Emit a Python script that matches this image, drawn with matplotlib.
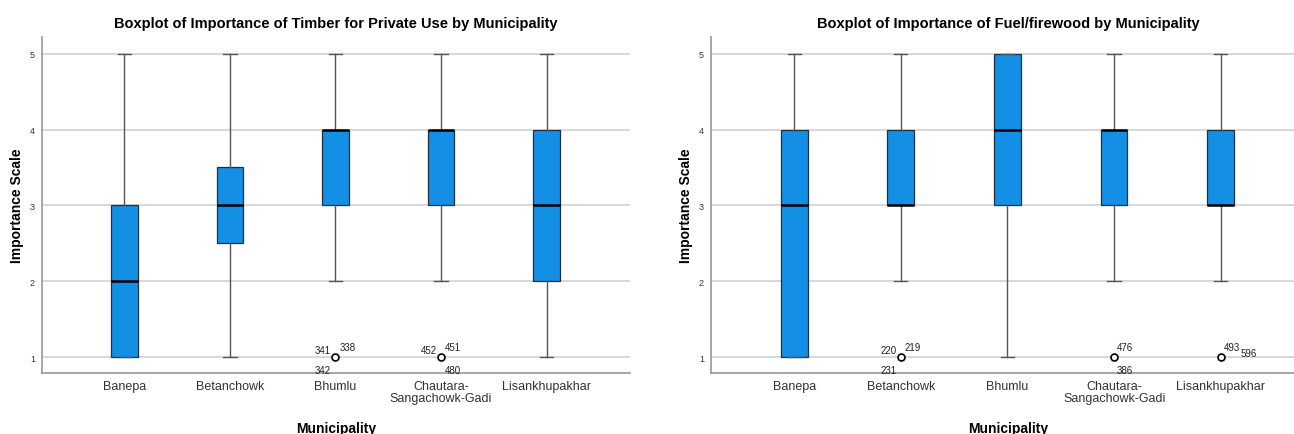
"""Boxplots of importance ratings (timber and fuel/firewood) by municipality."""

import matplotlib
matplotlib.use("Agg")
import matplotlib.pyplot as plt

plt.rcParams["font.family"] = ["Liberation Sans", "DejaVu Sans"]

MUNICIPALITIES = ["Banepa", "Betanchowk", "Bhumlu", "Chautara-\nSangachowk-Gadi", "Lisankhupakhar"]

# five-number summaries: whisker low, Q1, median, Q3, whisker high
TIMBER_WLO = [1, 1, 2, 2, 1]
TIMBER_Q1 = [1, 2.5, 3, 3, 2]
TIMBER_MED = [2, 3, 4, 4, 3]
TIMBER_Q3 = [3, 3.5, 4, 4, 4]
TIMBER_WHI = [5, 5, 5, 5, 5]
TIMBER_OUTLIERS = [[], [], [1], [1], []]
TIMBER_OUTLIER_IDS = [[], [], ["341", "338", "342"], ["452", "451", "480"], []]

FUEL_WLO = [1, 2, 1, 2, 2]
FUEL_Q1 = [1, 3, 3, 3, 3]
FUEL_MED = [3, 3, 4, 4, 3]
FUEL_Q3 = [4, 4, 5, 4, 4]
FUEL_WHI = [5, 5, 5, 5, 5]
FUEL_OUTLIERS = [[], [1], [], [1], [1]]
FUEL_OUTLIER_IDS = [[], ["220", "219", "231"], [], ["476", "386"], ["493", "596"]]

# point offsets for case-number labels around an outlier marker
THREE_LEFT = [(-3, 5, "right"), (3, 7, "left"), (-3, -9, "right")]
THREE_RIGHT = [(-3, 5, "right"), (3, 7, "left"), (3, -9, "left")]
TWO_STACKED = [(2, 7, "left"), (2, -9, "left")]
TWO_SIDE = [(2, 7, "left"), (14, 3, "left")]

BOX_COLOR = "#138fe6"
GRID_COLOR = "#d2d2d2"
SPINE_COLOR = "#a0a0a0"


def make_stats(wlo, q1, med, q3, whi, fliers):
    return [
        {"whislo": a, "q1": b, "med": c, "q3": d, "whishi": e, "fliers": f}
        for a, b, c, d, e, f in zip(wlo, q1, med, q3, whi, fliers)
    ]


def draw_panel(ax, stats, ids, offsets, title):
    for y in range(1, 6):
        ax.axhline(y, color=GRID_COLOR, linewidth=1.2, zorder=0)
    ax.bxp(
        stats,
        positions=range(len(stats)),
        widths=0.25,
        capwidths=0.125,
        patch_artist=True,
        boxprops={"facecolor": BOX_COLOR, "edgecolor": "#1f2f3f", "linewidth": 0.9},
        medianprops={"color": "black", "linewidth": 1.8},
        whiskerprops={"color": "#555555", "linewidth": 1.0},
        capprops={"color": "#555555", "linewidth": 1.0},
        flierprops={"marker": "o", "markerfacecolor": "white", "markeredgecolor": "black",
                    "markersize": 5, "markeredgewidth": 1.2},
        zorder=3,
    )
    for i, (st, labels) in enumerate(zip(stats, ids)):
        if not labels:
            continue
        for lab, (dx, dy, ha) in zip(labels, offsets[i]):
            ax.annotate(lab, (i, st["fliers"][0]), xytext=(dx, dy), textcoords="offset points",
                        ha=ha, va="center", fontsize=7, color="#222222")

    ax.set_xlim(-0.78, 4.79)
    ax.set_ylim(0.79, 5.22)
    ax.set_yticks([1, 2, 3, 4, 5])
    ax.set_xticks(range(len(MUNICIPALITIES)))
    ax.set_xticklabels(MUNICIPALITIES, fontsize=9, color="#333333", linespacing=1.05)
    ax.tick_params(axis="y", length=0, labelsize=6.5, pad=5, labelcolor="#333333")
    ax.tick_params(axis="x", length=0, pad=5)
    for side in ("top", "right"):
        ax.spines[side].set_visible(False)
    for side in ("left", "bottom"):
        ax.spines[side].set_color(SPINE_COLOR)
        ax.spines[side].set_linewidth(1.3)
    ax.set_ylabel("Importance Scale", fontsize=10, fontweight="bold", labelpad=4)
    ax.set_xlabel("Municipality", fontsize=10, fontweight="bold", va="center")
    ax.xaxis.set_label_coords(0.5, -0.165)
    ax.set_title(title, fontsize=10.5, fontweight="bold", pad=7)


fig = plt.figure(figsize=(12.94, 4.35), dpi=100)
ax1 = fig.add_axes([42 / 1294, 1 - 374 / 435, 588 / 1294, 336 / 435])
ax2 = fig.add_axes([711 / 1294, 1 - 374 / 435, 594 / 1294, 336 / 435])

timber_offsets = [None, None, THREE_LEFT, THREE_RIGHT, None]
fuel_offsets = [None, THREE_LEFT, None, TWO_STACKED, TWO_SIDE]

draw_panel(ax1, make_stats(TIMBER_WLO, TIMBER_Q1, TIMBER_MED, TIMBER_Q3, TIMBER_WHI, TIMBER_OUTLIERS),
           TIMBER_OUTLIER_IDS, timber_offsets,
           "Boxplot of Importance of Timber for Private Use by Municipality")
draw_panel(ax2, make_stats(FUEL_WLO, FUEL_Q1, FUEL_MED, FUEL_Q3, FUEL_WHI, FUEL_OUTLIERS),
           FUEL_OUTLIER_IDS, fuel_offsets,
           "Boxplot of Importance of Fuel/firewood by Municipality")

fig.savefig("out.png", dpi=100)
